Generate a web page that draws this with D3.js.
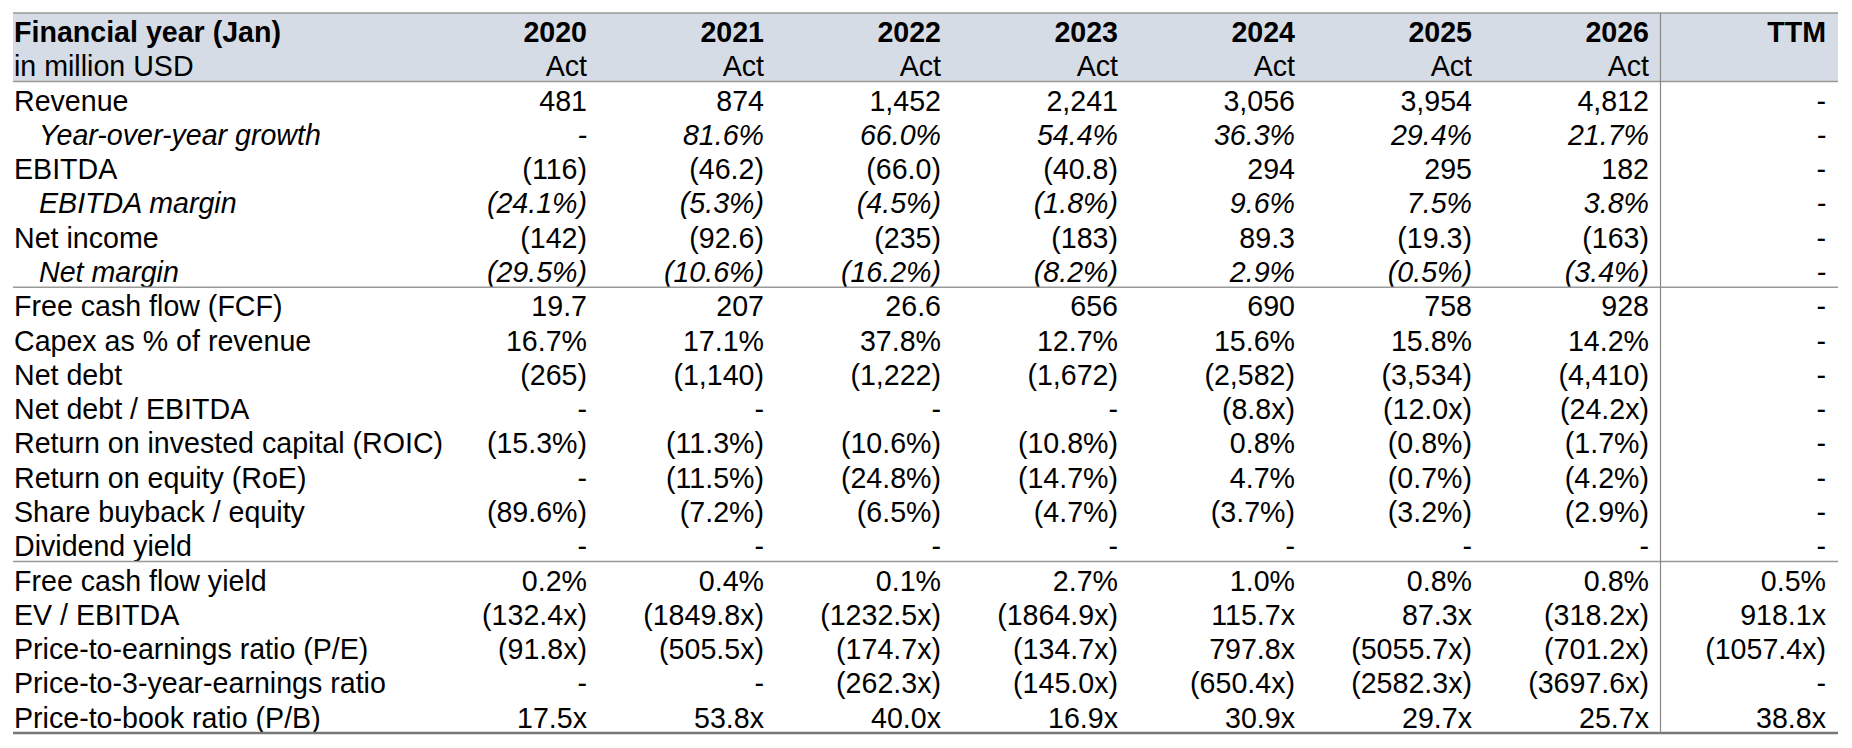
<!DOCTYPE html>
<html><head><meta charset="utf-8">
<script src="https://cdn.jsdelivr.net/npm/d3@7"></script>
<style>
html,body{margin:0;padding:0;background:#fff;}
svg{display:block;font-family:"Liberation Sans",Arial,sans-serif;}
</style></head>
<body>
<svg id="chart" width="1852" height="748"></svg>
<script>
// ---- data ----
const columns = ["2020","2021","2022","2023","2024","2025","2026","TTM"];
const columnTypes = ["Act","Act","Act","Act","Act","Act","Act",""];
const headerTitle = "Financial year (Jan)";
const headerUnit = "in million USD";

const rowLabels = [
  "Revenue","Year-over-year growth","EBITDA","EBITDA margin","Net income","Net margin",
  "Free cash flow (FCF)","Capex as % of revenue","Net debt","Net debt / EBITDA",
  "Return on invested capital (ROIC)","Return on equity (RoE)","Share buyback / equity","Dividend yield",
  "Free cash flow yield","EV / EBITDA","Price-to-earnings ratio (P/E)","Price-to-3-year-earnings ratio","Price-to-book ratio (P/B)"
];
const rowFormats = ["num","pct","num","pct","num","pct","num","pct","num","mult","pct","pct","pct","pct","pct","mult","mult","mult","mult"];
const rowItalic = [false,true,false,true,false,true,false,false,false,false,false,false,false,false,false,false,false,false,false];
const groupEnds = ["Net margin","Dividend yield"];

const revenue        = [481, 874, 1452, 2241, 3056, 3954, 4812, null];
const revenueGrowth  = [null, 81.6, 66.0, 54.4, 36.3, 29.4, 21.7, null];
const ebitda         = [-116, -46.2, -66.0, -40.8, 294, 295, 182, null];
const ebitdaMargin   = [-24.1, -5.3, -4.5, -1.8, 9.6, 7.5, 3.8, null];
const netIncome      = [-142, -92.6, -235, -183, 89.3, -19.3, -163, null];
const netMargin      = [-29.5, -10.6, -16.2, -8.2, 2.9, -0.5, -3.4, null];
const freeCashFlow   = [19.7, 207, 26.6, 656, 690, 758, 928, null];
const capexPct       = [16.7, 17.1, 37.8, 12.7, 15.6, 15.8, 14.2, null];
const netDebt        = [-265, -1140, -1222, -1672, -2582, -3534, -4410, null];
const netDebtEbitda  = [null, null, null, null, -8.8, -12.0, -24.2, null];
const roic           = [-15.3, -11.3, -10.6, -10.8, 0.8, -0.8, -1.7, null];
const roe            = [null, -11.5, -24.8, -14.7, 4.7, -0.7, -4.2, null];
const buybackEquity  = [-89.6, -7.2, -6.5, -4.7, -3.7, -3.2, -2.9, null];
const dividendYield  = [null, null, null, null, null, null, null, null];
const fcfYield       = [0.2, 0.4, 0.1, 2.7, 1.0, 0.8, 0.8, 0.5];
const evEbitda       = [-132.4, -1849.8, -1232.5, -1864.9, 115.7, 87.3, -318.2, 918.1];
const peRatio        = [-91.8, -505.5, -174.7, -134.7, 797.8, -5055.7, -701.2, -1057.4];
const pe3Ratio       = [null, null, -262.3, -145.0, -650.4, -2582.3, -3697.6, null];
const pbRatio        = [17.5, 53.8, 40.0, 16.9, 30.9, 29.7, 25.7, 38.8];

const rowValues = [revenue, revenueGrowth, ebitda, ebitdaMargin, netIncome, netMargin,
  freeCashFlow, capexPct, netDebt, netDebtEbitda, roic, roe, buybackEquity, dividendYield,
  fcfYield, evEbitda, peRatio, pe3Ratio, pbRatio];

// ---- formatting ----
function fmt(v, type){
  if (v === null || v === undefined) return "-";
  const a = Math.abs(v);
  let s;
  if (type === "num") s = a >= 100 ? d3.format(",.0f")(a) : d3.format(".1f")(a);
  else if (type === "pct") s = d3.format(".1f")(a) + "%";
  else s = d3.format(".1f")(a) + "x";
  return v < 0 ? "(" + s + ")" : s;
}

// ---- layout ----
const tLeft = 13, tRight = 1838, tTop = 13, tBottom = 733;
const fontSize = 28.6;
const allRows = ["__h1","__h2"].concat(rowLabels);
const y = d3.scaleBand().domain(allRows).range([tTop, tBottom]).padding(0);
const x = d3.scaleLinear().domain([0, columns.length - 1]).range([587, 1826]);
const baseOff = 29;

const svg = d3.select("#chart");

// header background
svg.append("rect")
  .attr("x", tLeft).attr("y", y("__h1"))
  .attr("width", tRight - tLeft).attr("height", y.bandwidth() * 2)
  .attr("fill", "#d6dce5");

// header texts
svg.append("text").attr("x", 14).attr("y", y("__h1") + baseOff)
  .attr("font-size", fontSize).attr("font-weight", "bold").attr("fill", "#000").text(headerTitle);
svg.append("text").attr("x", 14).attr("y", y("__h2") + baseOff)
  .attr("font-size", fontSize).attr("fill", "#000").text(headerUnit);

svg.selectAll("text.colh").data(columns).join("text").attr("class","colh")
  .attr("x", (d,i) => x(i)).attr("y", y("__h1") + baseOff)
  .attr("text-anchor","end").attr("font-size", fontSize).attr("font-weight","bold")
  .attr("fill","#000").text(d => d);
svg.selectAll("text.colt").data(columnTypes).join("text").attr("class","colt")
  .attr("x", (d,i) => x(i)).attr("y", y("__h2") + baseOff)
  .attr("text-anchor","end").attr("font-size", fontSize)
  .attr("fill","#000").text(d => d);

// body rows
const rowsG = svg.selectAll("g.row").data(rowLabels).join("g").attr("class","row")
  .attr("transform", d => `translate(0,${y(d) + baseOff})`);

rowsG.append("text")
  .attr("x", (d,i) => rowItalic[i] ? 39 : 14)
  .attr("font-size", fontSize)
  .attr("font-style", (d,i) => rowItalic[i] ? "italic" : "normal")
  .attr("fill", "#000")
  .text(d => d);

rowsG.each(function(label, ri){
  d3.select(this).selectAll("text.val").data(rowValues[ri]).join("text").attr("class","val")
    .attr("x", (d,i) => x(i))
    .attr("text-anchor","end")
    .attr("font-size", fontSize)
    .attr("font-style", rowItalic[ri] ? "italic" : "normal")
    .attr("fill","#000")
    .text(d => fmt(d, rowFormats[ri]));
});

// lines
const lineG = svg.append("g");
lineG.append("line").attr("x1", tLeft).attr("x2", tRight)
  .attr("y1", tTop).attr("y2", tTop).attr("stroke", "#999").attr("stroke-width", 1.5);
lineG.append("line").attr("x1", tLeft).attr("x2", tRight)
  .attr("y1", y("__h2") + y.bandwidth()).attr("y2", y("__h2") + y.bandwidth())
  .attr("stroke", "#999").attr("stroke-width", 1.5);
groupEnds.forEach(g => {
  const yy = y(g) + y.bandwidth();
  lineG.append("line").attr("x1", tLeft).attr("x2", tRight)
    .attr("y1", yy).attr("y2", yy).attr("stroke", "#999").attr("stroke-width", 1.5);
});
lineG.append("line").attr("x1", tLeft).attr("x2", tRight)
  .attr("y1", tBottom).attr("y2", tBottom).attr("stroke", "#777").attr("stroke-width", 2.5);
const vx = x(columns.length - 2) + 11.5;
lineG.append("line").attr("x1", vx).attr("x2", vx)
  .attr("y1", tTop).attr("y2", tBottom).attr("stroke", "#888").attr("stroke-width", 1.2);
</script>
</body></html>
